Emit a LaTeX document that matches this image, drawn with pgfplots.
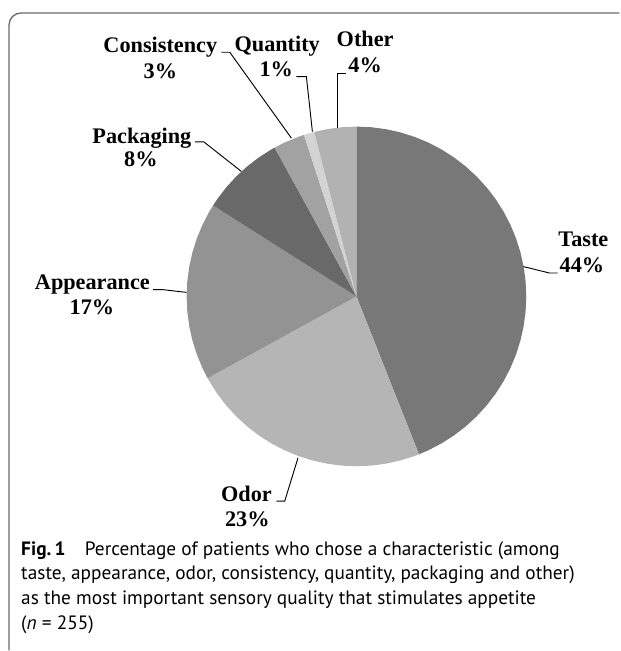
\documentclass[border=0pt]{standalone}
\usepackage{fontspec}
\usepackage{pgfplots}
\pgfplotsset{compat=1.18}
\usepgfplotslibrary{polar}
\setmainfont{Liberation Serif}
\newfontfamily\capfont{PT Sans}

% slice shades
\definecolor{cTaste}{HTML}{787878}
\definecolor{cOdor}{HTML}{B5B5B5}
\definecolor{cAppear}{HTML}{939393}
\definecolor{cPack}{HTML}{696969}
\definecolor{cCons}{HTML}{A2A2A2}
\definecolor{cQuant}{HTML}{D3D3D3}
\definecolor{cOther}{HTML}{B2B2B2}
\definecolor{frame}{HTML}{6A6A6A}

\newcommand{\lab}{\bfseries\fontsize{16.7}{20}\selectfont}

\begin{document}
\begin{tikzpicture}
% overlay in image pixels (y downward, negated)
\begin{axis}[
    at={(0,0)}, anchor=south west,
    width=465pt, height=488.25pt, scale only axis,
    xmin=0, xmax=620, ymin=-651, ymax=0,
    hide axis, clip=false,
  ]
  % keep the whole page
  \path (rel axis cs:0,0) rectangle (rel axis cs:1,1);
  % figure frame
  \draw[frame, line width=1pt, rounded corners=9pt]
    (axis cs:620,-13) -- (axis cs:9,-13) -- (axis cs:9,-651);

  % leader lines
  \addplot[black, line width=0.7pt] coordinates {(221.7,-52.3) (230,-52.3) (291.7,-138.3)};
  \addplot[black, line width=0.7pt] coordinates {(296.7,-76.7) (306.7,-76.7) (312.7,-131.7)};
  \addplot[black, line width=0.7pt] coordinates {(346.7,-73.3) (338.3,-73.3) (338.3,-128.3)};
  \addplot[black, line width=0.7pt] coordinates {(195,-142) (204,-142) (241.7,-171.7)};
  \addplot[black, line width=0.7pt] coordinates {(153.3,-290) (163.3,-290) (186.7,-292.7)};
  \addplot[black, line width=0.7pt] coordinates {(558.3,-273.3) (550,-273.3) (523.3,-266.7)};
  \addplot[black, line width=0.7pt] coordinates {(276.7,-501.7) (285,-501.7) (298.3,-458.3)};

  % labels
  \node[anchor=base, font=\lab] at (axis cs:160.5,-52.5) {Consistency};
  \node[anchor=base, font=\lab] at (axis cs:160.5,-79) {3\%};
  \node[anchor=base, font=\lab] at (axis cs:277.5,-52) {Quantity};
  \node[anchor=base, font=\lab] at (axis cs:276.5,-77) {1\%};
  \node[anchor=base, font=\lab] at (axis cs:365.5,-47) {Other};
  \node[anchor=base, font=\lab] at (axis cs:365.5,-73) {4\%};
  \node[anchor=base, font=\lab] at (axis cs:142,-143.3) {Packaging};
  \node[anchor=base, font=\lab] at (axis cs:141,-167) {8\%};
  \node[anchor=base, font=\lab] at (axis cs:92.5,-290) {Appearance};
  \node[anchor=base, font=\lab] at (axis cs:92,-315) {17\%};
  \node[anchor=base, font=\lab] at (axis cs:584,-246.7) {Taste};
  \node[anchor=base, font=\lab] at (axis cs:582.5,-273) {44\%};
  \node[anchor=base, font=\lab] at (axis cs:246.7,-501.7) {Odor};
  \node[anchor=base, font=\lab] at (axis cs:247.5,-527) {23\%};

  % caption (base anchor = last line)
  \node[anchor=base west, align=left, inner sep=0pt,
        font=\capfont\fontsize{14.5}{18.6}\selectfont] at (axis cs:21,-630)
    {\textbf{Fig.\,1}\quad Percentage of patients who chose a characteristic (among\\
     taste, appearance, odor, consistency, quantity, packaging and other)\\
     as the most important sensory quality that stimulates appetite\\
     (\textit{n} = 255)};
\end{axis}

% pie: 44, 23, 17, 8, 3, 1, 4 percent, clockwise from 12 o'clock
\begin{polaraxis}[
    at={(267.6pt,265.7pt)}, anchor=center,
    width=255pt, height=255pt, scale only axis,
    xmin=-270, xmax=90, ymin=0, ymax=1,
    hide axis, clip=false,
  ]
  % Taste 44%
  \addplot[draw=none, fill=cTaste] coordinates {(0,0) (90,1) (85,1) (80,1) (75,1) (70,1) (65,1) (60,1) (55,1) (50,1) (45,1) (40,1) (35,1) (30,1) (25,1) (20,1) (15,1) (10,1) (5,1) (0,1) (-5,1) (-10,1) (-15,1) (-20,1) (-25,1) (-30,1) (-35,1) (-40,1) (-45,1) (-50,1) (-55,1) (-60,1) (-65,1) (-68.4,1)} -- cycle;
  % Odor 23%
  \addplot[draw=none, fill=cOdor] coordinates {(0,0) (-68.4,1) (-70,1) (-75,1) (-80,1) (-85,1) (-90,1) (-95,1) (-100,1) (-105,1) (-110,1) (-115,1) (-120,1) (-125,1) (-130,1) (-135,1) (-140,1) (-145,1) (-150,1) (-151.2,1)} -- cycle;
  % Appearance 17%
  \addplot[draw=none, fill=cAppear] coordinates {(0,0) (-151.2,1) (-155,1) (-160,1) (-165,1) (-170,1) (-175,1) (-180,1) (-185,1) (-190,1) (-195,1) (-200,1) (-205,1) (-210,1) (-212.4,1)} -- cycle;
  % Packaging 8%
  \addplot[draw=none, fill=cPack] coordinates {(0,0) (-212.4,1) (-215,1) (-220,1) (-225,1) (-230,1) (-235,1) (-240,1) (-241.2,1)} -- cycle;
  % Consistency 3%
  \addplot[draw=none, fill=cCons] coordinates {(0,0) (-241.2,1) (-245,1) (-250,1) (-252,1)} -- cycle;
  % Quantity 1%
  \addplot[draw=none, fill=cQuant] coordinates {(0,0) (-252,1) (-255.6,1)} -- cycle;
  % Other 4%
  \addplot[draw=none, fill=cOther] coordinates {(0,0) (-255.6,1) (-260,1) (-265,1) (-270,1)} -- cycle;
\end{polaraxis}
\end{tikzpicture}
\end{document}
